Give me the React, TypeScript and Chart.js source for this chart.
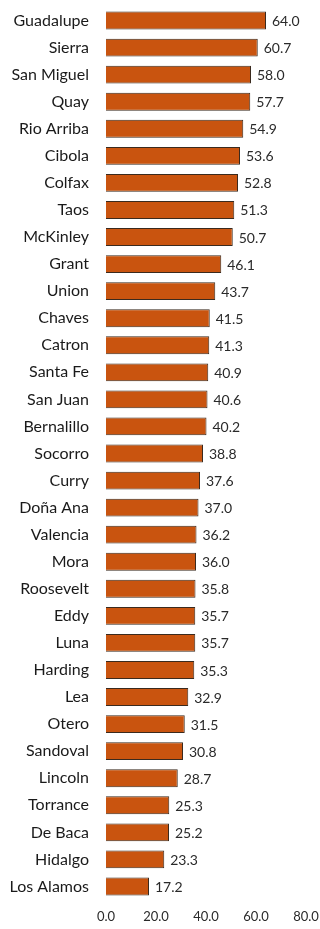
import React, { useEffect, useRef } from "react";
import { Chart, registerables } from "chart.js";

Chart.register(...registerables);

const counties = [
  "Guadalupe", "Sierra", "San Miguel", "Quay", "Rio Arriba", "Cibola", "Colfax", "Taos",
  "McKinley", "Grant", "Union", "Chaves", "Catron", "Santa Fe", "San Juan", "Bernalillo",
  "Socorro", "Curry", "Doña Ana", "Valencia", "Mora", "Roosevelt", "Eddy", "Luna",
  "Harding", "Lea", "Otero", "Sandoval", "Lincoln", "Torrance", "De Baca", "Hidalgo", "Los Alamos",
];

const rates = [
  64.0, 60.7, 58.0, 57.7, 54.9, 53.6, 52.8, 51.3,
  50.7, 46.1, 43.7, 41.5, 41.3, 40.9, 40.6, 40.2,
  38.8, 37.6, 37.0, 36.2, 36.0, 35.8, 35.7, 35.7,
  35.3, 32.9, 31.5, 30.8, 28.7, 25.3, 25.2, 23.3, 17.2,
];

const xTicks = [0, 20, 40, 60, 80];

const FONT = "Lato, 'Open Sans', sans-serif";

const valueLabels = {
  id: "valueLabels",
  afterDatasetsDraw(chart: any) {
    const ctx = chart.ctx;
    const meta = chart.getDatasetMeta(0);
    ctx.save();
    ctx.font = `14px ${FONT}`;
    ctx.fillStyle = "#2a2a2a";
    ctx.textAlign = "left";
    ctx.textBaseline = "middle";
    meta.data.forEach((bar: any, i: number) => {
      ctx.fillText(rates[i].toFixed(1), bar.x + 6, bar.y + 1);
    });
    ctx.restore();
  },
};

export default function App() {
  const ref = useRef<HTMLCanvasElement | null>(null);

  useEffect(() => {
    if (!ref.current) return;
    const chart = new Chart(ref.current, {
      type: "bar",
      data: {
        labels: counties,
        datasets: [
          {
            data: rates,
            backgroundColor: "#C9540F",
            borderColor: "#3a2a1e",
            borderWidth: 1,
            barPercentage: 0.66,
            categoryPercentage: 1,
          },
        ],
      },
      options: {
        indexAxis: "y",
        animation: false,
        responsive: false,
        maintainAspectRatio: false,
        layout: { padding: { top: 7, right: 14, bottom: 0, left: 0 } },
        plugins: { legend: { display: false }, tooltip: { enabled: false } },
        scales: {
          x: {
            min: 0,
            max: 80,
            afterBuildTicks: (s: any) => {
              s.ticks = xTicks.map((v) => ({ value: v }));
            },
            grid: { display: false, drawTicks: false },
            border: { display: false },
            ticks: {
              padding: 9,
              color: "#2a2a2a",
              font: { family: FONT, size: 13 },
              callback: (v: any) => Number(v).toFixed(1),
            },
            afterFit: (s: any) => {
              s.height = 29;
              s.paddingLeft = 0;
              s.paddingRight = 0;
            },
          },
          y: {
            grid: { display: false, drawTicks: false },
            border: { display: false },
            ticks: {
              padding: 17,
              color: "#1a1a1a",
              font: { family: FONT, size: 16 },
              autoSkip: false,
            },
            afterFit: (s: any) => {
              s.width = 106;
              s.paddingTop = 0;
              s.paddingBottom = 0;
            },
          },
        },
      },
      plugins: [valueLabels],
    });
    return () => chart.destroy();
  }, []);

  return (
    <div style={{ position: "fixed", left: 0, top: 0, width: 320, height: 929, background: "#fff" }}>
      <canvas ref={ref} width={320} height={929} style={{ width: 320, height: 929 }} />
    </div>
  );
}
